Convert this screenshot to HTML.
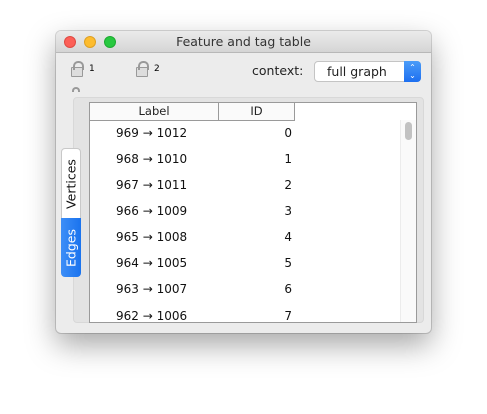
<!DOCTYPE html>
<html><head><style>
*{margin:0;padding:0;box-sizing:border-box}
body{width:487px;height:414px;background:#fff;position:relative;overflow:hidden;font-family:"DejaVu Sans","Liberation Sans",sans-serif;}
.win{position:absolute;left:56px;top:31px;width:375px;height:302px;background:#ececec;border-radius:5px;box-shadow:0 12px 30px rgba(0,0,0,0.35),0 0 0 1px rgba(0,0,0,0.15);overflow:hidden}
.title{position:absolute;left:0;top:0;width:375px;height:22px;background:linear-gradient(#ebebeb,#d5d5d5);border-bottom:1px solid #b8b8b8;text-align:center;font-size:12.5px;line-height:22px;color:#333}
.dot{position:absolute;top:5px;width:12px;height:12px;border-radius:50%}
.abs{position:absolute}
.panel{position:absolute;left:17px;top:66px;width:351px;height:226px;background:#e3e3e3;border-radius:4px;border:1px solid #d8d8d8}
.table{position:absolute;left:33px;top:71px;width:328px;height:221px;background:#fff;border:1px solid #9a9a9a;overflow:hidden}
.hdr{position:absolute;top:0;height:18px;border-bottom:1px solid #9a9a9a;border-right:1px solid #9a9a9a;font-size:11.5px;text-align:center;line-height:17px;color:#222;background:#fafafa}
.row{position:absolute;left:0;font-size:12px;color:#111;height:16px;line-height:16px}
.row .l{position:absolute;left:26px;white-space:nowrap}
.row .r{position:absolute;left:190px;width:12px;text-align:right}
.lock{position:absolute;width:12px;height:10px;border:1px solid #999;background:#ddd;border-radius:1px}
.lock:before{content:"";position:absolute;left:1px;top:-7px;width:7px;height:7px;border:2px solid #999;border-bottom:none;border-radius:5px 5px 0 0}
</style></head><body>
<div class="win">
 <div class="title">Feature and tag table</div>
 <div class="dot" style="left:8px;background:#fc5f57;border:1px solid #de4a42"></div>
 <div class="dot" style="left:28px;background:#fdbc2e;border:1px solid #dea023"></div>
 <div class="dot" style="left:48px;background:#28c840;border:1px solid #1eaa31"></div>
 <div class="lock" style="left:15px;top:36px"></div><div class="abs" style="left:33px;top:33px;font-size:9px">1</div>
 <div class="lock" style="left:80px;top:36px"></div><div class="abs" style="left:98px;top:33px;font-size:9px">2</div>
 <div class="abs" style="left:16px;top:56px;width:8px;height:5px;border:2px solid #999;border-bottom:none;border-radius:4px 4px 0 0"></div>
 <div class="abs" style="left:196px;top:32px;font-size:12.5px;color:#222">context:</div>
 <div class="abs" style="left:258px;top:30px;width:107px;height:21px;background:#fff;border:1px solid #c4c4c4;border-radius:4px;font-size:12.5px;line-height:19px;padding-left:12px;color:#222">full graph</div>
 <div class="abs" style="left:348px;top:30px;width:17px;height:21px;background:linear-gradient(#4a9cf8,#1d6ff0);border-radius:0 4px 4px 0;color:#fff;font-size:8px;line-height:8px;text-align:center;padding-top:3px">&#8963;<br>&#8964;</div>
 <div class="panel"></div>
 <div class="table">
  <div class="hdr" style="left:0;width:129px">Label</div>
  <div class="hdr" style="left:129px;width:76px">ID</div>
  <div class="abs" style="left:310px;top:17px;width:16px;height:210px;background:#fafafa;border-left:1px solid #ececec"></div>
  <div class="abs" style="left:315px;top:19px;width:7px;height:18px;background:#c2c2c2;border-radius:4px"></div>
  <div class="row" style="top:22px"><span class="l">969 → 1012</span><span class="r">0</span></div>
  <div class="row" style="top:48px"><span class="l">968 → 1010</span><span class="r">1</span></div>
  <div class="row" style="top:74px"><span class="l">967 → 1011</span><span class="r">2</span></div>
  <div class="row" style="top:100px"><span class="l">966 → 1009</span><span class="r">3</span></div>
  <div class="row" style="top:126px"><span class="l">965 → 1008</span><span class="r">4</span></div>
  <div class="row" style="top:152px"><span class="l">964 → 1005</span><span class="r">5</span></div>
  <div class="row" style="top:178px"><span class="l">963 → 1007</span><span class="r">6</span></div>
  <div class="row" style="top:205px"><span class="l">962 → 1006</span><span class="r">7</span></div>
 </div>
 <div class="abs" style="left:5px;top:117px;width:20px;height:71px;background:#fff;border:1px solid #c8c8c8;border-bottom:none;border-radius:4px 4px 0 0"></div>
 <div class="abs" style="left:5px;top:187px;width:20px;height:59px;background:linear-gradient(90deg,#3d8ef7,#1a73ee);border-radius:0 0 4px 4px"></div>
 <div class="abs" style="left:-20px;top:143px;width:71px;height:20px;transform:rotate(-90deg);text-align:center;font-size:12.5px;line-height:20px;color:#111">Vertices</div>
 <div class="abs" style="left:-14px;top:207px;width:59px;height:20px;transform:rotate(-90deg);text-align:center;font-size:12.5px;line-height:20px;color:#fff">Edges</div>
</div>
</body></html>
